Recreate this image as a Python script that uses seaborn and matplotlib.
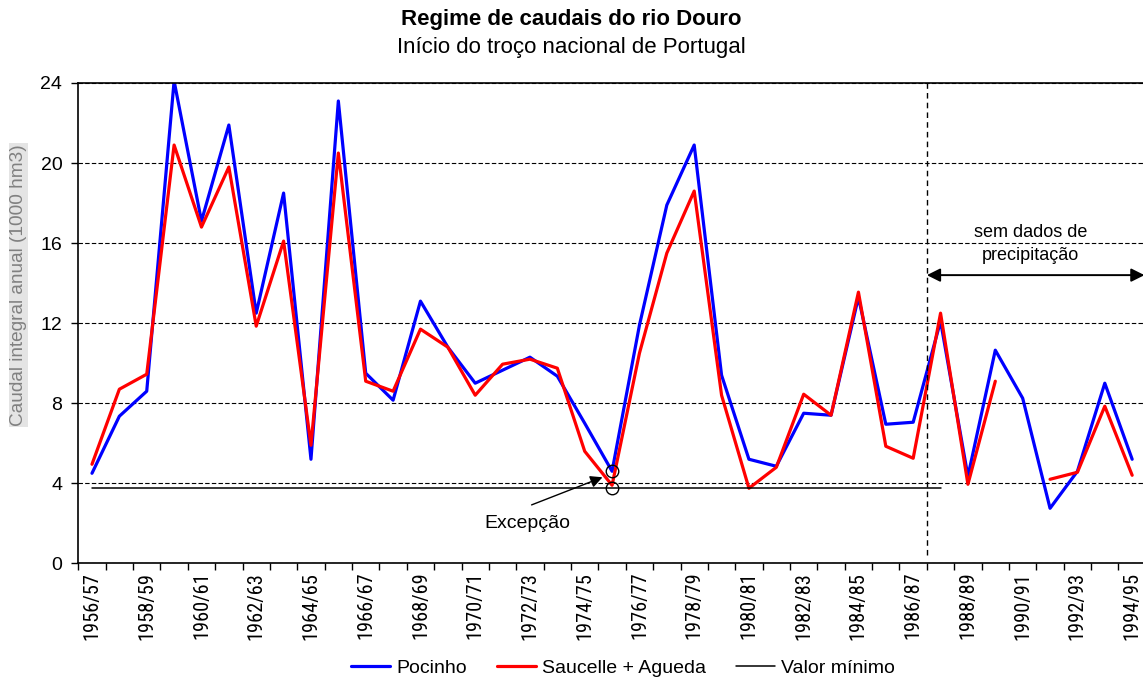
import numpy as np
import pandas as pd
import matplotlib
matplotlib.use("Agg")
import matplotlib.pyplot as plt
from matplotlib import font_manager as fm
from matplotlib.lines import Line2D
import seaborn as sns

# hydrological years 1956/57 .. 1994/95
years = [f"{y}/{str(y + 1)[-2:]}" for y in range(1956, 1995)]

pocinho = [4.5, 7.35, 8.6, 24.1, 17.1, 21.9, 12.5, 18.5, 5.2, 23.1,
           9.5, 8.15, 13.1, 10.8, 9.0, 9.65, 10.3, 9.35, 7.0, 4.6,
           11.9, 17.9, 20.9, 9.4, 5.2, 4.85, 7.5, 7.4, 13.3, 6.95,
           7.05, 12.1, 4.35, 10.65, 8.25, 2.75, 4.6, 9.0, 5.2]

saucelle_agueda = [4.95, 8.7, 9.45, 20.9, 16.8, 19.8, 11.85, 16.1, 5.9, 20.5,
                   9.1, 8.6, 11.7, 10.8, 8.4, 9.95, 10.2, 9.75, 5.6, 3.9,
                   10.5, 15.5, 18.6, 8.4, 3.75, 4.8, 8.45, 7.4, 13.55, 5.85,
                   5.25, 12.5, 3.95, 9.1, np.nan, 4.2, 4.55, 7.85, 4.4]

valor_minimo = 3.75
n_min = 32          # minimum line drawn up to 1987/88
cut_year = 30.5     # start of period without precipitation data
excepcao_idx = 19   # 1975/76

df = pd.DataFrame({
    "idx": np.arange(len(years)),
    "Pocinho": pocinho,
    "Saucelle + Agueda": saucelle_agueda,
})
# keep the gap in the red series: one unit per unbroken run
df["seg"] = df["Saucelle + Agueda"].isna().cumsum()
df_red = df.dropna(subset=["Saucelle + Agueda"])
df_min = pd.DataFrame({"idx": np.arange(n_min), "Valor mínimo": [valor_minimo] * n_min})

sns.set_theme(style="white")
plt.rcParams["font.family"] = ["Liberation Sans", "DejaVu Sans"]
plt.rcParams["text.color"] = "black"
plt.rcParams["axes.labelcolor"] = "black"
plt.rcParams["xtick.color"] = "black"
plt.rcParams["ytick.color"] = "black"


def narrow_font():
    prefer = ["Liberation Sans Narrow", "Arial Narrow", "Roboto Condensed", "Roboto",
              "Noto Sans", "Open Sans", "DejaVu Sans"]
    found = {}
    for f in fm.fontManager.ttflist:
        cond = f.stretch == "condensed" or "Narrow" in f.name or f.name.endswith("Condensed")
        if not cond or f.style != "normal" or f.weight not in (400, "normal", "regular"):
            continue
        if "Semi" in f.fname or "Extra" in f.fname or "Mono" in f.name or "CJK" in f.name:
            continue
        for p in prefer:
            if f.name.startswith(p):
                found.setdefault(p, f.fname)
    for p in prefer:
        if p in found:
            return fm.FontProperties(fname=found[p])
    return fm.FontProperties(family="Liberation Sans")


fig = plt.figure(figsize=(11.43, 6.83), dpi=100)
ax = fig.add_axes([0.0685, 0.1752, 0.934, 0.7033])

# size the rotated year labels so they run about 68 px long
xfont = narrow_font()
renderer = fig.canvas.get_renderer()
probe = fig.text(0, 0, "1956/57", fontproperties=xfont, size=16)
w = probe.get_window_extent(renderer).width
probe.remove()
xsize = min(16.0, 16.0 * 68.0 / w)
xfont.set_size(xsize)

sns.lineplot(data=df, x="idx", y="Pocinho", color="#0000ff", lw=2.3, ax=ax)
sns.lineplot(data=df_red, x="idx", y="Saucelle + Agueda", units="seg", estimator=None,
             color="#ff0000", lw=2.3, ax=ax)
sns.lineplot(data=df_min, x="idx", y="Valor mínimo", color="black", lw=1.1, ax=ax)

ax.set_xlim(-0.5, len(years) - 0.5)
ax.set_ylim(0, 24)
ax.set_yticks(range(0, 25, 4))
ax.yaxis.grid(True, color="black", linestyle=(0, (4, 2)), linewidth=0.8)
ax.set_axisbelow(True)

# category labels every second year, ticks between categories
ax.set_xticks(np.arange(0, len(years), 2))
ax.set_xticklabels(years[::2], rotation=90, fontproperties=xfont)
ax.set_xticks(np.arange(-0.5, len(years)), minor=True)
ax.tick_params(axis="x", which="major", length=0, pad=6)
ax.tick_params(axis="x", which="minor", length=5, width=1, color="black", direction="out")
ax.tick_params(axis="y", length=5, width=1, color="black", direction="out", labelsize=14,
               pad=6.5)
ax.xaxis.set_ticks_position("bottom")
ax.yaxis.set_ticks_position("left")
for s in ["left", "bottom", "top"]:
    ax.spines[s].set_color("black")
    ax.spines[s].set_linewidth(1.2)
ax.spines["right"].set_visible(False)

ax.set_xlabel("")
ax.set_ylabel("Caudal integral anual (1000 hm3)", color="#808080", fontsize=13.7,
              bbox=dict(facecolor="#e4e4e4", edgecolor="none", pad=1))
ax.yaxis.set_label_coords(-0.048, 0.58)

# period without precipitation data
ax.plot([cut_year, cut_year], [0.4, 24.2], color="black", lw=1, ls=(0, (4, 3)),
        clip_on=False)
ax.annotate("", xy=(cut_year, 14.4), xytext=(38.45, 14.4),
            arrowprops=dict(arrowstyle="<|-|>", color="black", lw=1.4,
                            mutation_scale=20, shrinkA=0, shrinkB=0),
            annotation_clip=False)
ax.text(34.3, 15.95, "sem dados de\nprecipitação", ha="center", va="center",
        fontsize=13, linespacing=1.5)

# exception marker
ax.plot([excepcao_idx, excepcao_idx], [pocinho[excepcao_idx], valor_minimo], ls="none",
        marker="o", ms=9, mfc="none", mec="black", mew=1)
ax.annotate("", xy=(18.65, 4.3), xytext=(16.06, 2.92),
            arrowprops=dict(arrowstyle="-|>", color="black", lw=1, mutation_scale=18,
                            shrinkA=0, shrinkB=0))
ax.text(15.9, 1.97, "Excepção", ha="center", va="center", fontsize=14)

fig.text(0.5, 0.971, "Regime de caudais do rio Douro", ha="center", va="center",
         fontsize=16, fontweight="bold")
fig.text(0.5, 0.930, "Início do troço nacional de Portugal", ha="center", va="center",
         fontsize=16)

handles = [Line2D([], [], color="#0000ff", lw=2.3),
           Line2D([], [], color="#ff0000", lw=2.3),
           Line2D([], [], color="black", lw=1.1)]
labels = ["Pocinho", "Saucelle + Agueda", "Valor mínimo"]
if ax.get_legend() is not None:
    ax.get_legend().remove()
fig.legend(handles, labels, loc="center", bbox_to_anchor=(0.545, 0.022), ncol=3,
           frameon=False, fontsize=14, handlelength=2.0, columnspacing=1.55,
           handletextpad=0.3)

fig.savefig("out.png", dpi=100)
